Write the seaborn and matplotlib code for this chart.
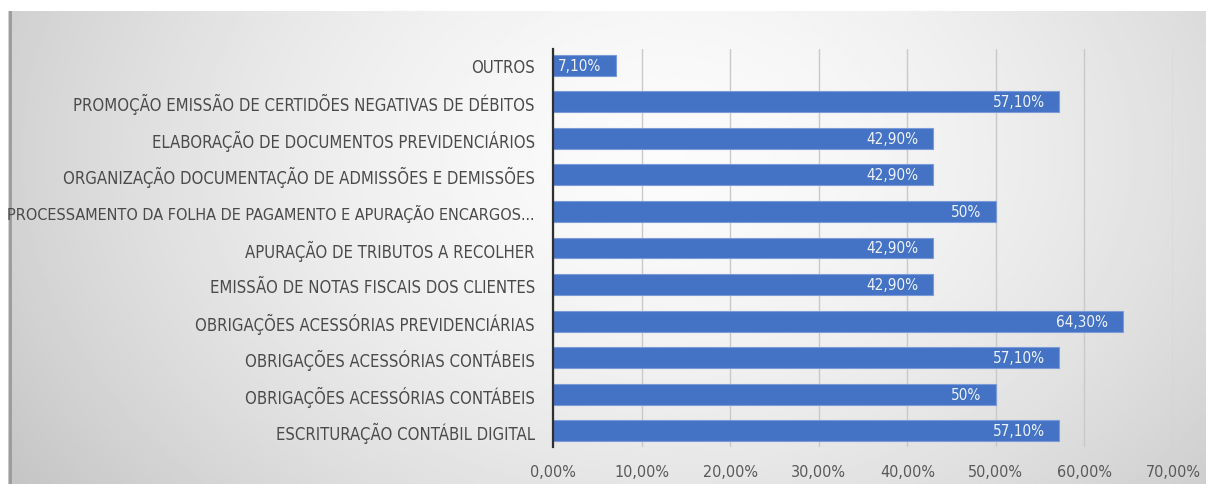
import numpy as np
import pandas as pd
import matplotlib
matplotlib.use("Agg")
import matplotlib.pyplot as plt
import seaborn as sns
from matplotlib import font_manager

# Data (top to bottom)
categories = [
    "OUTROS",
    "PROMOÇÃO EMISSÃO DE CERTIDÕES NEGATIVAS DE DÉBITOS",
    "ELABORAÇÃO DE DOCUMENTOS PREVIDENCIÁRIOS",
    "ORGANIZAÇÃO DOCUMENTAÇÃO DE ADMISSÕES E DEMISSÕES",
    "PROCESSAMENTO DA FOLHA DE PAGAMENTO E APURAÇÃO ENCARGOS...",
    "APURAÇÃO DE TRIBUTOS A RECOLHER",
    "EMISSÃO DE NOTAS FISCAIS DOS CLIENTES",
    "OBRIGAÇÕES ACESSÓRIAS PREVIDENCIÁRIAS",
    "OBRIGAÇÕES ACESSÓRIAS CONTÁBEIS",
    "OBRIGAÇÕES ACESSÓRIAS CONTÁBEIS",
    "ESCRITURAÇÃO CONTÁBIL DIGITAL",
]
values = [7.1, 57.1, 42.9, 42.9, 50.0, 42.9, 42.9, 64.3, 57.1, 50.0, 57.1]
value_labels = ["7,10%", "57,10%", "42,90%", "42,90%", "50%", "42,90%",
                "42,90%", "64,30%", "57,10%", "50%", "57,10%"]
x_ticks = [0, 10, 20, 30, 40, 50, 60, 70]
x_tick_labels = ["0,00%", "10,00%", "20,00%", "30,00%", "40,00%", "50,00%", "60,00%", "70,00%"]

sns.set_theme(style="white")
plt.rcParams["font.family"] = ["DejaVu Sans"]
plt.rcParams["font.stretch"] = "condensed"

# check whether a condensed face really exists, otherwise shrink the text
path = font_manager.findfont(font_manager.FontProperties(family="DejaVu Sans", stretch="condensed"))
condensed = "Condensed" in path
lab_size = 12.0 if condensed else 10.5

W, H = 1206, 485
fig = plt.figure(figsize=(W / 100, H / 100), dpi=100, facecolor="white")

# gradient background panel (Excel style)
bg = fig.add_axes([8 / W, 0, 1 - 8 / W, (H - 12) / H], zorder=0)
gx, gy = np.meshgrid(np.linspace(0, 1, 400), np.linspace(0, 1, 200))
dist = np.sqrt(((gx - 0.55) / 0.75) ** 2 + ((gy - 0.3) / 1.4) ** 2)
shade = np.clip(0.985 - 0.26 * dist ** 1.6, 0.74, 1.0)
bg.imshow(shade, cmap="gray", vmin=0, vmax=1, aspect="auto", extent=[0, 1, 1, 0])
bg.axvline(0.002, color="#9a9a9a", lw=2)
bg.set_axis_off()

df = pd.DataFrame({"pos": range(len(categories)), "value": values})

ax = fig.add_axes([553 / W, 37 / H, 620 / W, 398 / H], zorder=1)
ax.patch.set_alpha(0)
sns.barplot(data=df, x="value", y="pos", orient="h", color="#4472C4",
            saturation=1, width=0.57, edgecolor="#7b9bd8", linewidth=0.8, ax=ax)

ax.set_xlim(0, 70)
ax.set_ylim(len(categories) - 0.56, -0.44)
ax.set_xticks(x_ticks)
ax.set_xticklabels(x_tick_labels, fontsize=11.5, color="#595959")
ax.set_yticks(range(len(categories)))
ax.set_yticklabels(categories, fontsize=lab_size, color="#4a4a4a")
# the truncated label is the longest one, keep it inside the picture
for t in ax.get_yticklabels():
    if t.get_text().endswith("..."):
        t.set_fontsize(lab_size * 0.97)
ax.set_xlabel("")
ax.set_ylabel("")
ax.grid(axis="x", color="#c9c9c9", lw=1)
ax.set_axisbelow(True)
ax.tick_params(axis="x", length=4, color="#c9c9c9", pad=8)
ax.tick_params(axis="y", length=0, pad=13)
for side in ["top", "right", "bottom"]:
    ax.spines[side].set_visible(False)
ax.spines["left"].set_color("#303030")
ax.spines["left"].set_linewidth(1.6)

for i, (v, lab) in enumerate(zip(values, value_labels)):
    ax.text(v - 1.6, i, lab, ha="right", va="center", fontsize=11,
            color="#eef3fb")

fig.savefig("out.png", dpi=100, facecolor="white")
